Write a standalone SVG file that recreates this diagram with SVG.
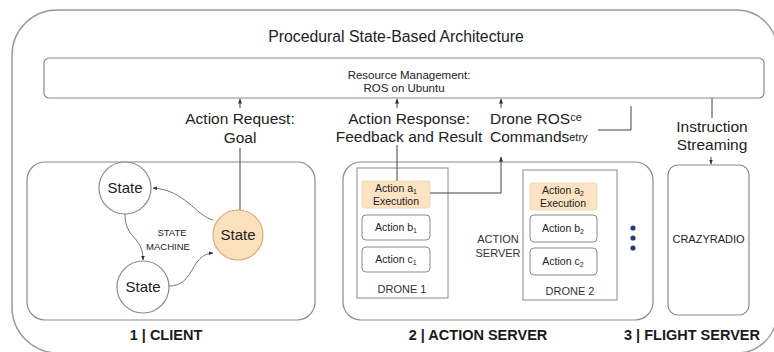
<svg xmlns="http://www.w3.org/2000/svg" width="774" height="352" viewBox="0 0 774 352">
<defs>
<style>
.t{font-family:"Liberation Sans",Arial,sans-serif;fill:#222}
.lbl{font-size:15.5px;text-anchor:middle}
.sm{font-size:11px;text-anchor:middle;fill:#333}
.bold{font-size:14.5px;font-weight:bold;text-anchor:middle;fill:#1a1a1a}
.box{fill:#fff;stroke:#8a8a8a;stroke-width:1.2}
.frame{fill:none;stroke:#9a9a9a;stroke-width:1.5}
.act{fill:#fff;stroke:#8a8a8a;stroke-width:1}
.hot{fill:#fce3c3;stroke:#f3d3a8;stroke-width:0.8}
.circ{fill:#fff;stroke:#8a8a8a;stroke-width:1.2}
.ln{fill:none;stroke:#444;stroke-width:1}
.gl{fill:none;stroke:#666;stroke-width:0.9}
</style>
<marker id="ah" viewBox="0 0 10 10" refX="9" refY="5" markerWidth="5" markerHeight="5" orient="auto-start-reverse">
<path d="M0,1 L10,5 L0,9 z" fill="#333"/>
</marker>
</defs>
<rect width="774" height="352" fill="#fff"/>

<g id="outer">
<path class="frame" d="M12,55 A45,45 0 0 1 57,10 L737,10 A40,40 0 0 1 777,50 L777,313 A40,40 0 0 1 737,353 L58,353 A46,46 0 0 1 12,307 Z"/>
<text class="t" x="396" y="42" font-size="15.8" text-anchor="middle">Procedural State-Based Architecture</text>
</g>

<g id="resource">
<rect class="box" x="44" y="58" width="720" height="40" rx="5"/>
<text class="t" x="409" y="79" font-size="11.5" text-anchor="middle" fill="#333">Resource Management:</text>
<text class="t" x="404" y="92" font-size="11.5" text-anchor="middle" fill="#333">ROS on Ubuntu</text>
</g>

<g id="client">
<rect class="box" x="27" y="162" width="288" height="158" rx="18"/>
<text class="t bold" x="166" y="340">1 | CLIENT</text>
<text class="t" x="172" y="236" font-size="9.5" text-anchor="middle" fill="#444">STATE</text>
<text class="t" x="168" y="250" font-size="9.5" text-anchor="middle" fill="#444">MACHINE</text>
</g>
<g id="state1">
<circle class="circ" cx="125" cy="188" r="26"/>
<text class="t" x="125" y="193" font-size="15" text-anchor="middle">State</text>
</g>
<g id="state2">
<circle class="circ" cx="143" cy="287" r="26"/>
<text class="t" x="143" y="292" font-size="15" text-anchor="middle">State</text>
</g>
<g id="state3">
<circle cx="238" cy="235" r="25" fill="#fbe0bd" stroke="#d8ad78" stroke-width="1.2"/>
<text class="t" x="238" y="240" font-size="15" text-anchor="middle">State</text>
</g>

<g id="actionserver">
<rect class="box" x="343" y="162" width="310" height="158" rx="18"/>
<text class="t bold" x="478" y="340">2 | ACTION SERVER</text>
<text class="t sm" x="498" y="243">ACTION</text>
<text class="t sm" x="498" y="257">SERVER</text>
<circle cx="633" cy="228" r="2.6" fill="#2a3a78"/>
<circle cx="633" cy="238" r="2.6" fill="#2a3a78"/>
<circle cx="633" cy="248" r="2.6" fill="#2a3a78"/>
</g>

<g id="drone1">
<rect x="357" y="168" width="91" height="130" fill="#fff" stroke="#8a8a8a" stroke-width="1"/>
<text class="t sm" x="402" y="293">DRONE 1</text>
<rect class="hot" x="362" y="181" width="68" height="27" rx="2"/>
<text class="t" x="396" y="192" font-size="10.5" text-anchor="middle">Action a<tspan font-size="7" dy="2">1</tspan></text>
<text class="t" x="396" y="205" font-size="10.5" text-anchor="middle">Execution</text>
<rect class="act" x="362" y="215" width="68" height="25" rx="4"/>
<text class="t" x="396" y="231" font-size="10.5" text-anchor="middle">Action b<tspan font-size="7" dy="2">1</tspan></text>
<rect class="act" x="362" y="247" width="68" height="25" rx="4"/>
<text class="t" x="396" y="263" font-size="10.5" text-anchor="middle">Action c<tspan font-size="7" dy="2">1</tspan></text>
</g>

<g id="drone2">
<rect x="523" y="170" width="94" height="130" fill="#fff" stroke="#8a8a8a" stroke-width="1"/>
<text class="t sm" x="570" y="295">DRONE 2</text>
<rect class="hot" x="530" y="183" width="67" height="27" rx="2"/>
<text class="t" x="563" y="194" font-size="10.5" text-anchor="middle">Action a<tspan font-size="7" dy="2">2</tspan></text>
<text class="t" x="563" y="207" font-size="10.5" text-anchor="middle">Execution</text>
<rect class="act" x="530" y="215" width="67" height="27" rx="4"/>
<text class="t" x="563" y="232" font-size="10.5" text-anchor="middle">Action b<tspan font-size="7" dy="2">2</tspan></text>
<rect class="act" x="530" y="248" width="67" height="27" rx="4"/>
<text class="t" x="563" y="265" font-size="10.5" text-anchor="middle">Action c<tspan font-size="7" dy="2">2</tspan></text>
</g>

<g id="flightserver">
<rect class="box" x="668" y="165" width="81" height="150" rx="10"/>
<text class="t" x="708.5" y="243" font-size="11" text-anchor="middle" fill="#333">CRAZYRADIO</text>
<text class="t bold" x="692" y="340">3 | FLIGHT SERVER</text>
</g>

<g id="connectors">
<path class="gl" d="M213,220 C195,215 185,190 153,188" marker-end="url(#ah)"/>
<path class="gl" d="M125,214 C125,240 143,235 143,260" marker-end="url(#ah)"/>
<path class="gl" d="M169,286 C195,286 190,254 213,253" marker-end="url(#ah)"/>
<path class="ln" d="M240,210 L240,148"/>
<path class="ln" d="M240,108 L240,99" marker-end="url(#ah)"/>
<path class="ln" d="M397,181 L397,145"/>
<path class="ln" d="M397,108 L397,99" marker-end="url(#ah)"/>
<path class="ln" d="M430,193 L501,193 L501,157" marker-end="url(#ah)"/>
<path class="ln" d="M501,108 L501,99" marker-end="url(#ah)"/>
<path class="ln" d="M598,130 L631,130 L631,106"/>
<path class="ln" d="M712,98 L712,118"/>
<path class="ln" d="M711,157 L711,164" marker-end="url(#ah)"/>
</g>

<g id="labels">
<text class="t lbl" x="240" y="124">Action Request:</text>
<text class="t lbl" x="240" y="143">Goal</text>
<text class="t lbl" x="409" y="124">Action Response:</text>
<text class="t lbl" x="409" y="142">Feedback and Result</text>
<text class="t" x="490" y="124" font-size="15.5">Drone ROS<tspan font-size="11" dy="-3">ce</tspan></text>
<text class="t" x="490" y="142" font-size="15.5">Commands<tspan font-size="11" dy="-1">etry</tspan></text>
<text class="t lbl" x="712" y="132">Instruction</text>
<text class="t lbl" x="712" y="150">Streaming</text>
</g>
</svg>
